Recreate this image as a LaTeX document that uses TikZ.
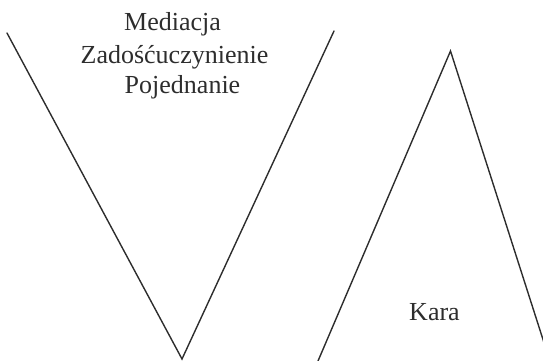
\documentclass[tikz,border=0pt]{standalone}
\usepackage{fontspec}
\setmainfont{Liberation Serif}
\usepackage{tikz}
\usetikzlibrary{positioning}
\definecolor{InkGray}{RGB}{45,45,45}

\begin{document}
\begin{tikzpicture}[
    x=1pt, y=-1pt,
    % ── styles ──
    leg/.style  = {line width=1.4pt, InkGray, line cap=round, line join=miter},
    word/.style = {font=\fontsize{26}{31.5}\selectfont, text=InkGray,
                   anchor=base, inner sep=0pt},
]
\useasboundingbox (0,0) rectangle (543,360);
\clip (0,0) rectangle (543,360);

% =====================================================================
%  V: mediacja / zadoscuczynienie / pojednanie
% =====================================================================
\coordinate (vtl) at (7,33);
\coordinate (vbot) at (182,359);
\coordinate (vtr) at (334,31);
\draw[leg] (vtl) -- (vbot) -- (vtr);

\node[word] (med) at (172.5,30) {Mediacja};
\node[word] (zad) at (174.5,63) {Zadośćuczynienie};
\node[word] (poj) at (182.5,93) {Pojednanie};

% =====================================================================
%  Lambda: kara
% =====================================================================
\coordinate (abl) at (318,361);
\coordinate (apex) at (450.5,51);
\coordinate (abr) at (547,352);
\draw[leg] (abl) -- (apex) -- (abr);

\node[word] (kara) at (434.5,320) {Kara};

\end{tikzpicture}
\end{document}
